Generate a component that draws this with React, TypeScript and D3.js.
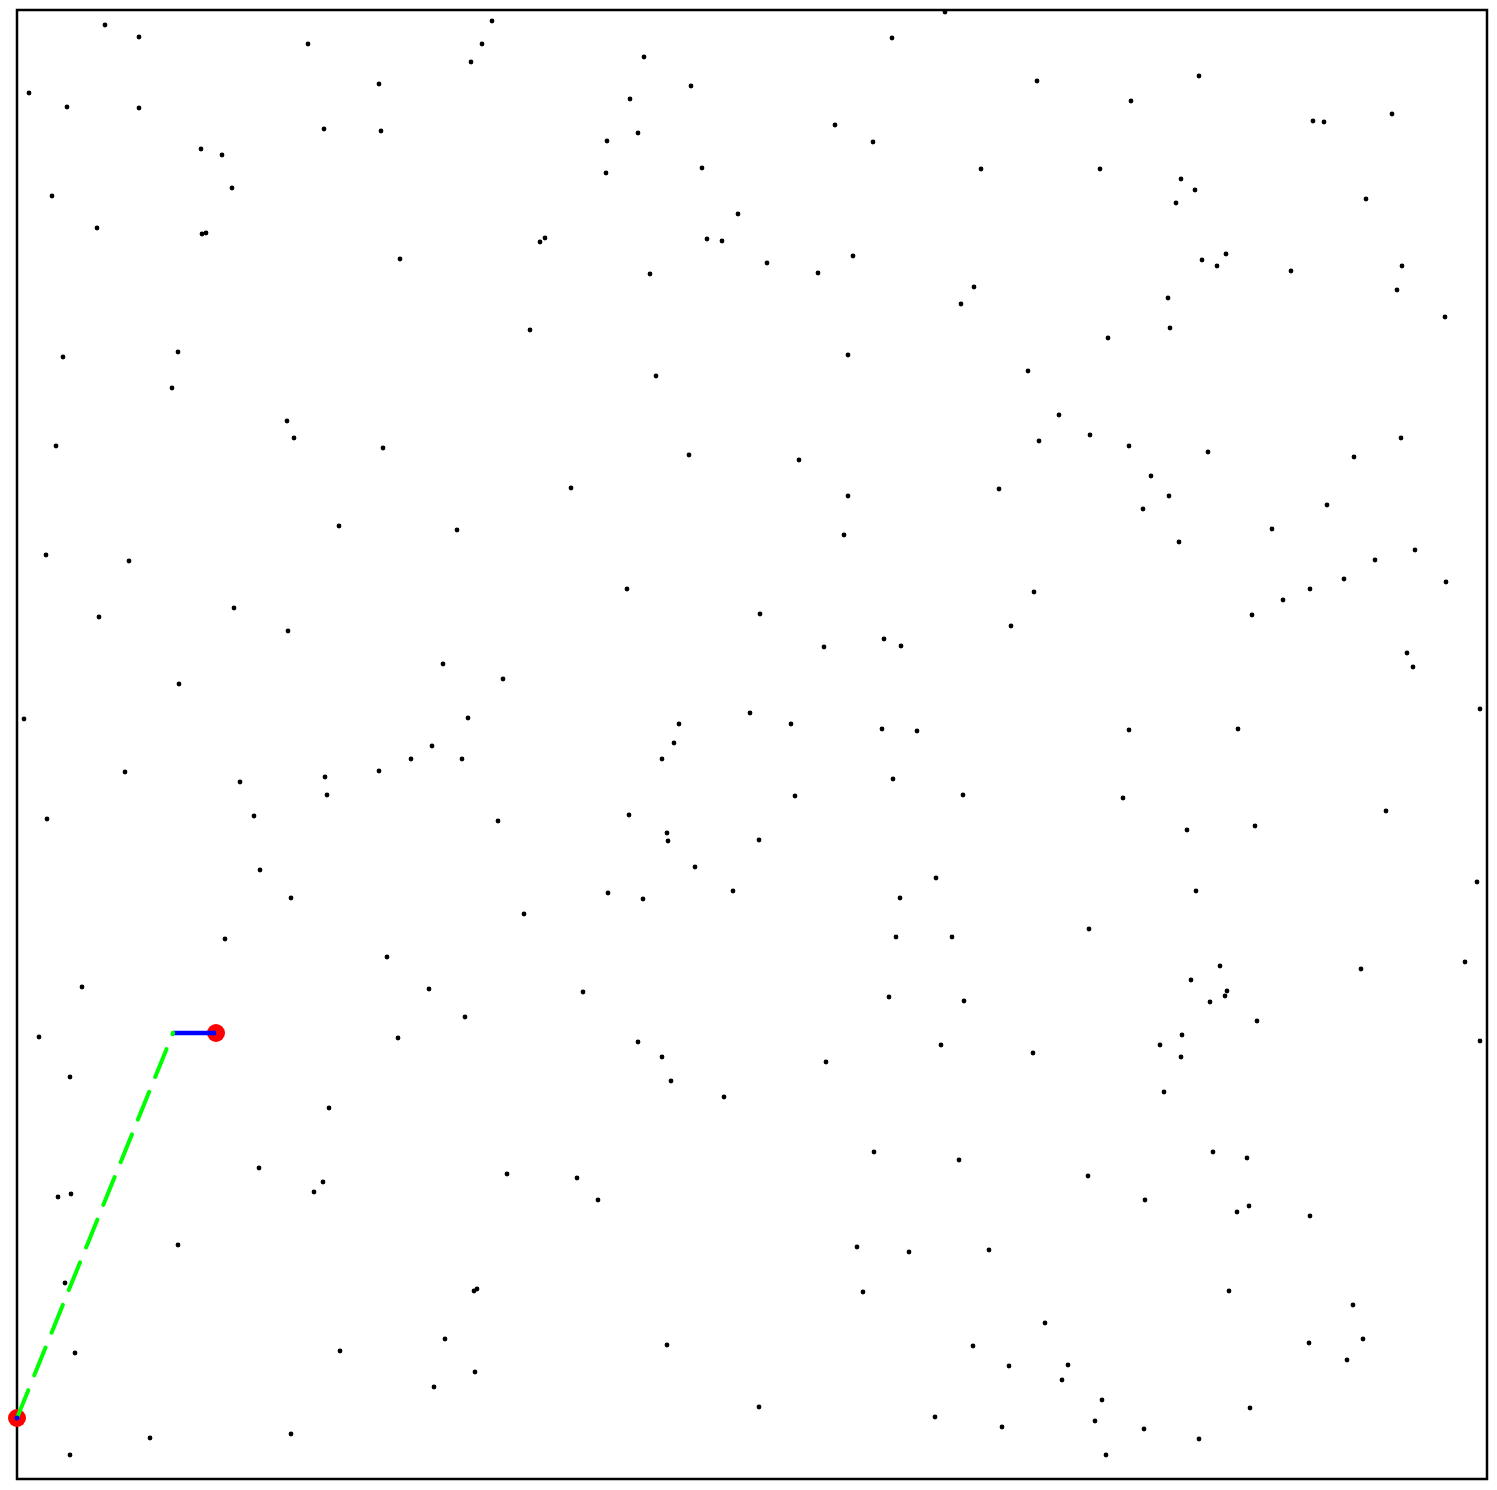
import React, { useEffect, useRef } from 'react';
import * as d3 from 'd3';

// sampled points (map units, origin top-left of the field)
const samples: [number, number][] = [
  [88, 15], [122, 27], [291, 34], [362, 74], [12, 83], [50, 97], [122, 98], [307, 119], [364, 121],
  [184, 139], [205, 145], [215, 178], [35, 186], [80, 218], [185, 224], [189, 223], [46, 347],
  [161, 342], [155, 378], [270, 411], [277, 428], [39, 436], [366, 438],
  [475, 11], [465, 34], [454, 52], [627, 47], [674, 76], [613, 89], [621, 123], [590, 131], [589, 163],
  [685, 158], [721, 204], [523, 232], [528, 228], [690, 229], [705, 231], [383, 249], [633, 264],
  [513, 320], [639, 366], [672, 445], [554, 478],
  [928, 2], [875, 28], [1020, 71], [818, 115], [856, 132], [964, 159], [1083, 159], [750, 253],
  [836, 246], [801, 263], [957, 277], [944, 294], [1091, 328], [831, 345], [1011, 361], [1042, 405],
  [1022, 431], [1073, 425], [782, 450], [831, 486], [982, 479],
  [1182, 66], [1114, 91], [1296, 111], [1307, 112], [1375, 104], [1164, 169], [1178, 180], [1159, 193],
  [1349, 189], [1185, 250], [1209, 244], [1200, 256], [1274, 261], [1385, 256], [1380, 280], [1151, 288],
  [1153, 318], [1428, 307], [1112, 436], [1191, 442], [1337, 447], [1384, 428], [1134, 466], [1152, 486],
  [322, 516], [29, 545], [112, 551], [217, 598], [82, 607], [271, 621], [162, 674], [7, 709], [108, 762],
  [223, 772], [308, 767], [310, 785], [362, 761], [30, 809], [237, 806], [243, 860], [274, 888],
  [208, 929], [65, 977],
  [440, 520], [610, 579], [426, 654], [486, 669], [451, 708], [415, 736], [394, 749], [445, 749],
  [733, 703], [662, 714], [657, 733], [645, 749], [481, 811], [612, 805], [650, 823], [651, 831],
  [678, 857], [591, 883], [626, 889], [716, 881], [507, 904], [370, 947], [412, 979],
  [827, 525], [1017, 582], [743, 604], [994, 616], [807, 637], [867, 629], [884, 636], [774, 714],
  [865, 719], [900, 721], [876, 769], [778, 786], [946, 785], [1106, 788], [742, 830], [919, 868],
  [883, 888], [879, 927], [935, 927], [1072, 919],
  [1126, 499], [1310, 495], [1255, 519], [1162, 532], [1398, 540], [1358, 550], [1327, 569], [1429, 572],
  [1293, 579], [1266, 590], [1235, 605], [1390, 643], [1396, 657], [1463, 699], [1112, 720], [1221, 719],
  [1369, 801], [1170, 820], [1238, 816], [1460, 872], [1179, 881], [1203, 956], [1174, 970], [1344, 959],
  [1448, 952],
  [22, 1027], [53, 1067], [312, 1098], [242, 1158], [306, 1172], [297, 1182], [41, 1187], [54, 1184],
  [161, 1235], [48, 1273], [58, 1343], [323, 1341], [274, 1424], [133, 1428], [53, 1445],
  [566, 982], [448, 1007], [381, 1028], [621, 1032], [645, 1047], [654, 1071], [707, 1087], [490, 1164],
  [560, 1168], [581, 1190], [457, 1281], [460, 1279], [428, 1329], [650, 1335], [458, 1362], [417, 1377],
  [872, 987], [947, 991], [924, 1035], [809, 1052], [1016, 1043], [857, 1142], [942, 1150], [1071, 1166],
  [840, 1237], [892, 1242], [972, 1240], [846, 1282], [1028, 1313], [956, 1336], [992, 1356], [1051, 1355],
  [1045, 1370], [1085, 1390], [1078, 1411], [742, 1397], [918, 1407], [985, 1417], [1089, 1445],
  [1210, 981], [1208, 986], [1193, 992], [1240, 1011], [1165, 1025], [1143, 1035], [1164, 1047],
  [1463, 1031], [1147, 1082], [1196, 1142], [1230, 1148], [1128, 1190], [1232, 1196], [1220, 1202],
  [1293, 1206], [1212, 1281], [1336, 1295], [1346, 1329], [1292, 1333], [1330, 1350], [1233, 1398],
  [1127, 1419], [1182, 1429],
];

const startPoint: [number, number] = [0, 1408];
const goalPoint: [number, number] = [199, 1023];
const treeNode: [number, number] = [156, 1023];
const treeEdge: [number, number][] = [startPoint, treeNode];
const goalEdge: [number, number][] = [treeNode, goalPoint];

const FieldPlot = () => {
  const ref = useRef<SVGSVGElement | null>(null);

  useEffect(() => {
    if (!ref.current) return;
    const svg = d3.select(ref.current);
    svg.selectAll('*').remove();

    const margin = { top: 10, right: 10, bottom: 11, left: 17 };
    const width = 1497 - margin.left - margin.right;
    const height = 1490 - margin.top - margin.bottom;

    const x = d3.scaleLinear().domain([0, 1470]).range([0, width]);
    const y = d3.scaleLinear().domain([0, 1469]).range([0, height]);

    const g = svg.append('g').attr('transform', `translate(${margin.left},${margin.top})`);

    g.append('rect')
      .attr('x', 0)
      .attr('y', 0)
      .attr('width', width)
      .attr('height', height)
      .attr('fill', 'white')
      .attr('stroke', 'black')
      .attr('stroke-width', 2.5);

    g.selectAll('circle.sample')
      .data(samples)
      .enter()
      .append('circle')
      .attr('class', 'sample')
      .attr('cx', (d) => x(d[0]))
      .attr('cy', (d) => y(d[1]))
      .attr('r', 2.4)
      .attr('fill', 'black');

    // start and goal
    g.selectAll('circle.endpoint')
      .data([startPoint, goalPoint])
      .enter()
      .append('circle')
      .attr('class', 'endpoint')
      .attr('cx', (d) => x(d[0]))
      .attr('cy', (d) => y(d[1]))
      .attr('r', 9)
      .attr('fill', '#ff0000');

    const line = d3
      .line<[number, number]>()
      .x((d) => x(d[0]))
      .y((d) => y(d[1]));

    g.append('path')
      .attr('d', line(treeEdge))
      .attr('fill', 'none')
      .attr('stroke', '#00ff00')
      .attr('stroke-width', 4)
      .attr('stroke-linecap', 'round')
      .attr('stroke-dasharray', '30,16');

    g.append('path')
      .attr('d', line(goalEdge))
      .attr('fill', 'none')
      .attr('stroke', '#0000ff')
      .attr('stroke-width', 4.5);

    g.append('circle')
      .attr('cx', x(treeNode[0]))
      .attr('cy', y(treeNode[1]))
      .attr('r', 2.2)
      .attr('fill', '#00ff00');

    g.append('circle')
      .attr('cx', x(startPoint[0]))
      .attr('cy', y(startPoint[1]))
      .attr('r', 2.5)
      .attr('fill', '#0000ff');
  }, []);

  return (
    <svg
      ref={ref}
      width={1497}
      height={1490}
      style={{ position: 'absolute', left: 0, top: 0, background: 'white' }}
    />
  );
};

export default function App() {
  return <FieldPlot />;
}
